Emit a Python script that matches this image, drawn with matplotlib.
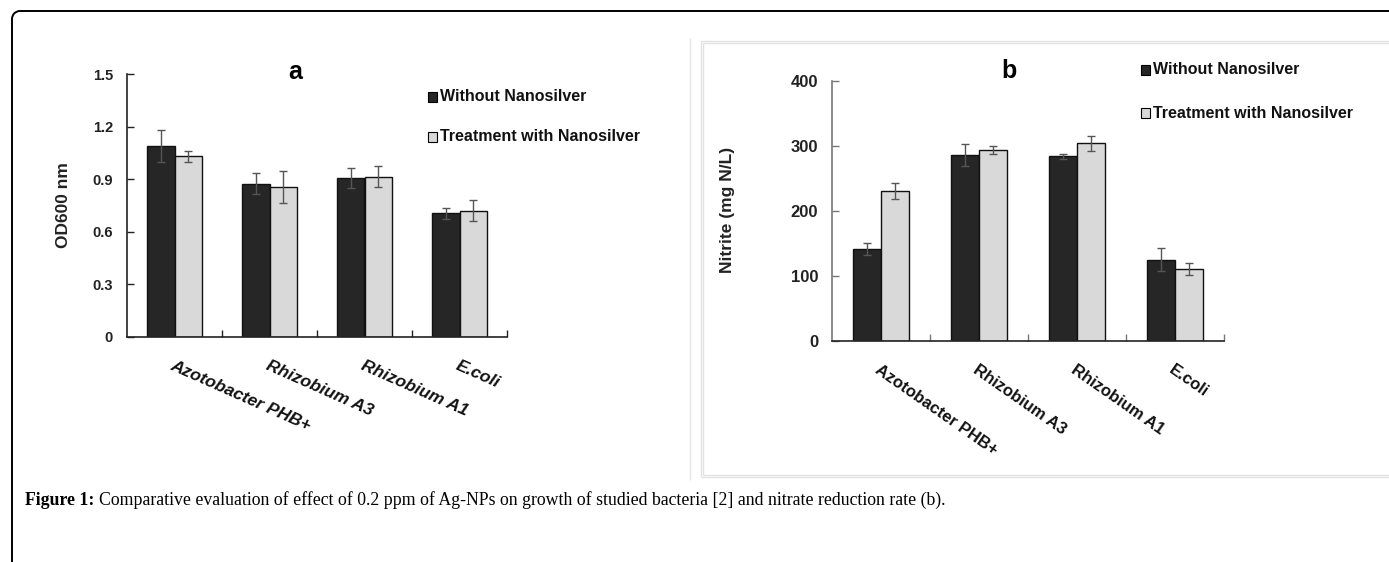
"""Two-panel bar chart: effect of Ag-NPs on growth (a) and nitrite (b)."""
import matplotlib

matplotlib.use("Agg")
import numpy as np
from matplotlib import pyplot as plt
from matplotlib.patches import Rectangle, Arc
from matplotlib.lines import Line2D
from matplotlib.transforms import IdentityTransform

categories = ["Azotobacter PHB+", "Rhizobium A3", "Rhizobium A1", "E.coli"]
series_names = ["Without Nanosilver", "Treatment with Nanosilver"]

od_without = [1.09, 0.875, 0.905, 0.705]
od_without_err = [0.09, 0.06, 0.058, 0.03]
od_with = [1.03, 0.855, 0.913, 0.72]
od_with_err = [0.03, 0.09, 0.06, 0.06]

nitrite_without = [142, 286, 284, 125]
nitrite_without_err = [9, 17, 4, 18]
nitrite_with = [231, 294, 304, 111]
nitrite_with_err = [12, 6, 12, 9]

caption_bold = "Figure 1:"
caption_rest = ("Comparative evaluation of effect of 0.2 ppm of Ag-NPs on growth of "
                "studied bacteria [2] and nitrate reduction rate (b).")

W, H = 1389, 562
DARK = "#262626"
LIGHT = "#d9d9d9"
SANS = ["Liberation Sans", "DejaVu Sans"]
SERIF = ["Liberation Serif", "DejaVu Serif"]

fig = plt.figure(figsize=(W / 100, H / 100), dpi=100)
PX = IdentityTransform()


def fx(px):
    return px / W


def fy(py):
    return 1 - py / H


def line(xs, ys, color, lw=1.0):
    fig.add_artist(Line2D(xs, [H - y for y in ys], color=color, linewidth=lw,
                          transform=PX, solid_capstyle="butt"))


def panel(rect, without, without_err, with_, with_err, ymax, step, ylabel,
          fmt, tick_fs, lab_fs, rot, italic, ylabel_xy, ylabel_fs, title_xy,
          legend_xy, legend_dy, spine_col):
    ax = fig.add_axes(rect)
    x = np.arange(len(categories))
    w = 0.285
    for vals, errs, col, off in [(without, without_err, DARK, -w / 2),
                                 (with_, with_err, LIGHT, w / 2)]:
        ax.bar(x + off, vals, w, color=col, edgecolor="#111111", linewidth=1.0,
               yerr=errs, error_kw=dict(ecolor="#555555", elinewidth=1.0,
                                        capsize=3, capthick=1.0), zorder=2)
    ax.set_xlim(-0.5, len(categories) - 0.5)
    ax.set_ylim(0, ymax)
    ticks = np.arange(0, ymax + step / 2, step)
    ax.set_yticks(ticks)
    ax.set_yticklabels([fmt(t) for t in ticks], fontsize=tick_fs,
                       fontweight="bold", family=SANS)
    ax.tick_params(axis="y", direction="in", length=5, width=1, colors=spine_col,
                   labelcolor="#222222", pad=10)
    ax.set_xticks(x)
    ax.set_xticklabels(categories, rotation=rot, ha="left", va="top",
                       rotation_mode="anchor", fontsize=lab_fs, fontweight="bold",
                       style="italic" if italic else "normal", family=SANS)
    ax.tick_params(axis="x", length=0, pad=15, labelcolor="#111111")
    ax.set_xticks(np.arange(0.5, len(categories)), minor=True)
    ax.tick_params(axis="x", which="minor", direction="in", length=5, width=1,
                   colors=spine_col)
    for s in ["top", "right"]:
        ax.spines[s].set_visible(False)
    for s in ["left", "bottom"]:
        ax.spines[s].set_color(spine_col)
        ax.spines[s].set_linewidth(1.2)
    ax.spines["bottom"].set_color("#222222")
    fig.text(fx(ylabel_xy[0]), fy(ylabel_xy[1]), ylabel, fontsize=ylabel_fs,
             fontweight="bold", family=SANS, rotation=90, ha="center",
             va="center", color="#222222")
    fig.text(fx(title_xy[0]), fy(title_xy[1]), title_xy[2], fontsize=18,
             fontweight="bold", family=SANS, ha="center", va="center")
    lx, ly = legend_xy
    for i, (name, col) in enumerate(zip(series_names, [DARK, LIGHT])):
        yy = ly + i * legend_dy
        fig.add_artist(Rectangle((lx - 5, H - yy - 5), 9, 10, facecolor=col,
                                 edgecolor="black", linewidth=0.8, transform=PX))
        fig.text(fx(lx + 7), fy(yy), name, fontsize=11.5, fontweight="bold",
                 family=SANS, ha="left", va="center", color="#111111")
    return ax


panel([fx(127), fy(337), fx(507) - fx(127), fy(74) - fy(337)],
      od_without, od_without_err, od_with, od_with_err, 1.5, 0.3, "OD600 nm",
      lambda t: "0" if t == 0 else f"{t:.1f}", 10.5, 12.5, -24, True,
      (63, 205), 12.5, (295, 72, "a"), (433, 97), 40, "#222222")

panel([fx(832), fy(341), fx(1224) - fx(832), fy(81) - fy(341)],
      nitrite_without, nitrite_without_err, nitrite_with, nitrite_with_err,
      400, 100, "Nitrite (mg N/L)", lambda t: f"{int(t)}", 12, 12, -35, False,
      (727, 210), 12.5, (1009, 71, "b"), (1146, 70), 43, "#777777")

# page decoration: rounded outer border, panel-b frame, separator
r = 8
line([12, 12], [11 + r, H + 5], "black", 1.4)
line([12 + r, W + 5], [11, 11], "black", 1.4)
fig.add_artist(Arc((12 + r, H - 11 - r), 2 * r, 2 * r, theta1=90, theta2=180,
                   color="black", linewidth=1.4, transform=PX))
for off in (0, 2):
    line([701 + off, 701 + off], [41 + off, 477 - off], "#e2e2e2")
    line([701 + off, W + 5], [41 + off, 41 + off], "#e2e2e2")
    line([701 + off, W + 5], [477 - off, 477 - off], "#e2e2e2")
line([690, 690], [38, 480], "#e6e6e6")

# caption
t1 = fig.text(fx(25), fy(505), caption_bold, fontsize=12.8, fontweight="bold",
              family=SERIF, ha="left", va="baseline")
renderer = fig.canvas.get_renderer()
bb = t1.get_window_extent(renderer)
fig.text(fx(25 + bb.width + 5), fy(505), caption_rest, fontsize=12.8,
         family=SERIF, ha="left", va="baseline")

fig.savefig("out.png", dpi=100)
